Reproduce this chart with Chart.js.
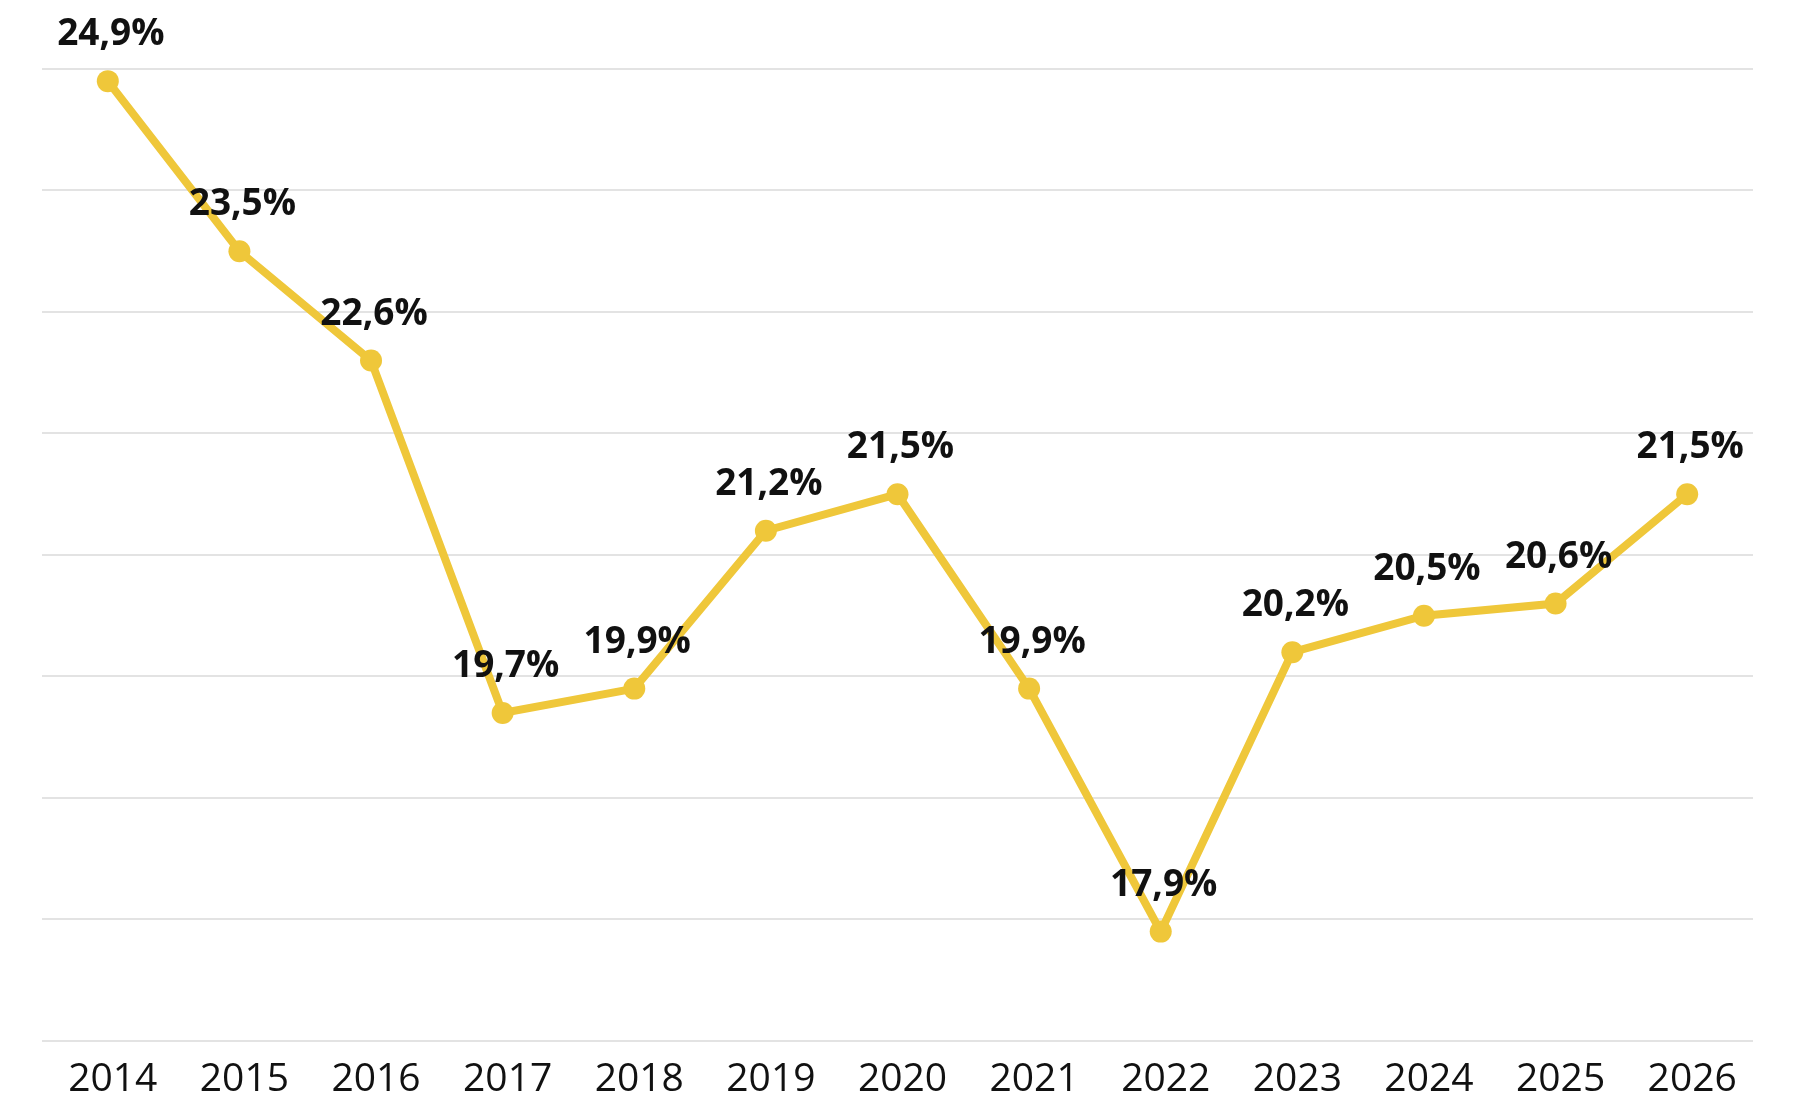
<!DOCTYPE html>
<html lang="de">
<head>
    <meta charset="UTF-8">
    <title>Quote 2014-2026</title>
    <script src="https://cdn.jsdelivr.net/npm/chart.js@4.4.1/dist/chart.umd.min.js"></script>
    <style>
        html, body { margin: 0; padding: 0; background: #fff; }
        #wrap { width: 1801px; height: 1110px; }
    </style>
</head>
<body>
<div id="wrap">
    <canvas id="myChart"></canvas>
</div>

<script>
    // values
    var years = ['2014', '2015', '2016', '2017', '2018', '2019', '2020',
                 '2021', '2022', '2023', '2024', '2025', '2026'];
    var quote = [24.9, 23.5, 22.6, 19.7, 19.9, 21.2, 21.5, 19.9, 17.9, 20.2, 20.5, 20.6, 21.5];
    var yMin = 17;
    var yMax = 25;

    var yellow = '#EFC73A';

    // draws "24,9%" etc. above every point
    var valueLabels = {
        id: 'valueLabels',
        afterDatasetsDraw: function (chart) {
            var ctx = chart.ctx;
            var meta = chart.getDatasetMeta(0);
            ctx.save();
            ctx.font = 'bold 37px "Open Sans"';
            ctx.fillStyle = '#111111';
            ctx.textAlign = 'center';
            ctx.textBaseline = 'alphabetic';
            meta.data.forEach(function (pt, i) {
                var txt = quote[i].toFixed(1).replace('.', ',') + '%';
                ctx.fillText(txt, pt.x + 3, pt.y - 36);
            });
            ctx.restore();
        }
    };

    var ctx = document.getElementById('myChart').getContext('2d');
    var chart = new Chart(ctx, {
        type: 'line',
        data: {
            labels: years,
            datasets: [{
                data: quote,
                borderColor: yellow,
                backgroundColor: yellow,
                borderWidth: 8,
                pointRadius: 11,
                pointHoverRadius: 11,
                pointBackgroundColor: yellow,
                pointBorderWidth: 0,
                tension: 0,
                clip: false
            }]
        },
        options: {
            responsive: true,
            maintainAspectRatio: false,
            animation: false,
            layout: {
                padding: { left: 42, right: 48, top: 69, bottom: 0 }
            },
            plugins: {
                legend: { display: false },
                tooltip: { enabled: false }
            },
            scales: {
                x: {
                    offset: true,
                    grid: { display: false },
                    border: { display: false },
                    ticks: {
                        color: '#111111',
                        padding: 12,
                        labelOffset: 5,
                        maxRotation: 0,
                        autoSkip: false,
                        font: { family: '"Open Sans"', size: 39, lineHeight: 0.95 }
                    }
                },
                y: {
                    min: yMin,
                    max: yMax,
                    grid: { color: '#e3e3e3', lineWidth: 2, drawTicks: false },
                    border: { display: false },
                    ticks: { display: false, stepSize: 1 }
                }
            }
        },
        plugins: [valueLabels]
    });
</script>
</body>
</html>
